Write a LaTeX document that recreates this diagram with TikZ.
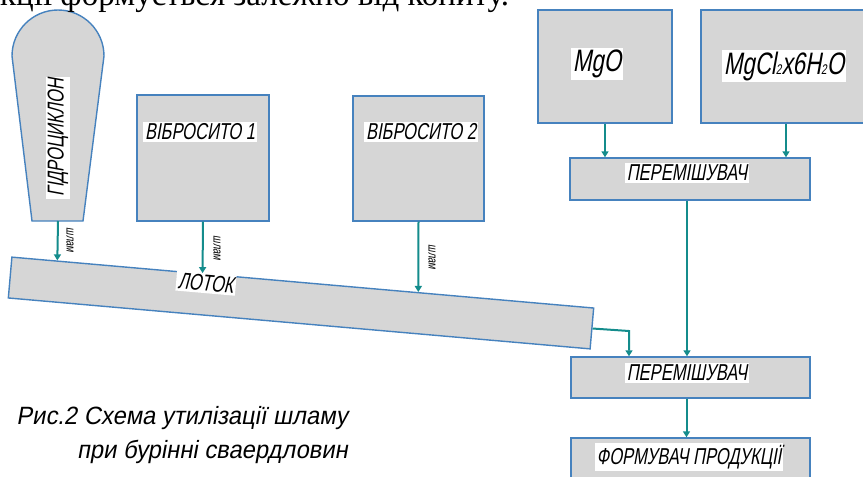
\documentclass[tikz,border=0pt]{standalone}
\usepackage{fontspec}
\setmainfont{Liberation Serif}
\newfontfamily\gost[FakeStretch=0.72,FakeSlant=0.18]{Liberation Sans}
\newfontfamily\gostwide[FakeStretch=0.95,FakeSlant=0.18]{Liberation Sans}
\usetikzlibrary{arrows.meta,calc,positioning}
\definecolor{boxgray}{RGB}{214,214,214}
\definecolor{edgeblue}{RGB}{70,130,190}
\definecolor{pipeteal}{RGB}{20,140,140}
\newcommand{\chemsub}[1]{{\fontsize{14}{14}\selectfont #1}}
\tikzset{
  plant/.style={draw=edgeblue, line width=1.4pt, fill=boxgray, inner sep=0pt},
  tag/.style={fill=white, inner sep=2pt, font=\gost\fontsize{23}{23}\selectfont},
  bigtag/.style={tag, font=\gost\fontsize{31}{31}\selectfont},
  flow/.style={draw=pipeteal, line width=2pt, -{Triangle[length=6pt,width=7pt]}},
  slime/.style={font=\gost\fontsize{13}{13}\selectfont, rotate=-90, inner sep=0pt},
  caption/.style={font=\gostwide\fontsize{25}{34}\selectfont, inner sep=0pt},
}

\begin{document}
\begin{tikzpicture}[x=1pt,y=-1pt]
  \useasboundingbox (0,0) rectangle (863,477);

  % hydrocyclone
  \draw[draw=edgeblue, line width=1.4pt, fill=boxgray]
    (32,221) -- (12,56) arc[start angle=180, end angle=360, radius=46] -- (83,221) -- cycle;
  \coordinate (hydro) at (58,221);
  \node[tag, rotate=90] (hydro label) at (58,138) {ГІДРОЦИКЛОН};

  \node[anchor=base west, inner sep=0pt, font=\fontsize{33}{33}\selectfont] (intro) at (0,5)
    {кції формується залежно від копиту.};

  % screens
  \node[plant, minimum width=132pt, minimum height=126pt] (vib1) at (203,158) {};
  \node[tag] (vib1 label) at (200,132) {ВІБРОСИТО 1};
  \node[plant, minimum width=131pt, minimum height=125pt] (vib2) at (418.5,158.5) {};
  \node[tag] (vib2 label) at (421,132) {ВІБРОСИТО 2};

  % tray
  \node[plant, minimum width=584pt, minimum height=41pt, rotate=-5] (lotok) at (301,303) {};
  \node[tag, rotate=-5] (lotok label) at (206,283) {ЛОТОК};

  \draw[flow] (hydro) -- ($(lotok.north west)!0.079!(lotok.north east)$);
  \draw[flow] (vib1.south) -- ($(lotok.north west)!0.328!(lotok.north east)$);
  \draw[flow] (vib2.south) -- ($(lotok.north west)!0.698!(lotok.north east)$);
  \node[slime] (slime1) at (70,240) {шлам};
  \node[slime] (slime2) at (217,248) {шлам};
  \node[slime] (slime3) at (432,257) {шлам};

  % reagents
  \node[plant, minimum width=134pt, minimum height=113pt] (mgo) at (605,66.5) {};
  \node[bigtag] (mgo label) at (597,64) {MgO};
  \node[plant, minimum width=170pt, minimum height=113pt] (mgcl) at (786,66.5) {};
  \node[bigtag] (mgcl label) at (784,66) {MgCl\chemsub{2}x6H\chemsub{2}O};

  \node[plant, minimum width=240pt, minimum height=42pt] (mix1) at (690,179) {};
  \node[tag] (mix1 label) at (687,173) {ПЕРЕМІШУВАЧ};
  \node[plant, minimum width=239pt, minimum height=41pt] (mix2) at (690.5,377.5) {};
  \node[tag] (mix2 label) at (687,373) {ПЕРЕМІШУВАЧ};
  \node[plant, minimum width=239pt, minimum height=60pt] (former) at (690.5,468) {};
  \node[tag] (former label) at (689,457) {ФОРМУВАЧ ПРОДУКЦІЇ};

  \draw[flow] (mgo.south) -- (mgo.south |- mix1.north);
  \draw[flow] (mgcl.south) -- (mgcl.south |- mix1.north);
  \draw[flow] ([xshift=-3pt]mix1.south) -- ([xshift=-3pt]mix1.south |- mix2.north);
  \draw[flow] ([xshift=-4pt]mix2.south) -- ([xshift=-4pt]mix2.south |- former.north);
  \coordinate (bend) at (629,331);
  \draw[flow] (lotok.east) -- (bend) -- (bend |- mix2.north);

  \node[caption, align=right, anchor=north east] (caption) at (348,406)
    {Рис.2 Схема утилізації шламу\\при бурінні сваердловин};
\end{tikzpicture}
\end{document}
